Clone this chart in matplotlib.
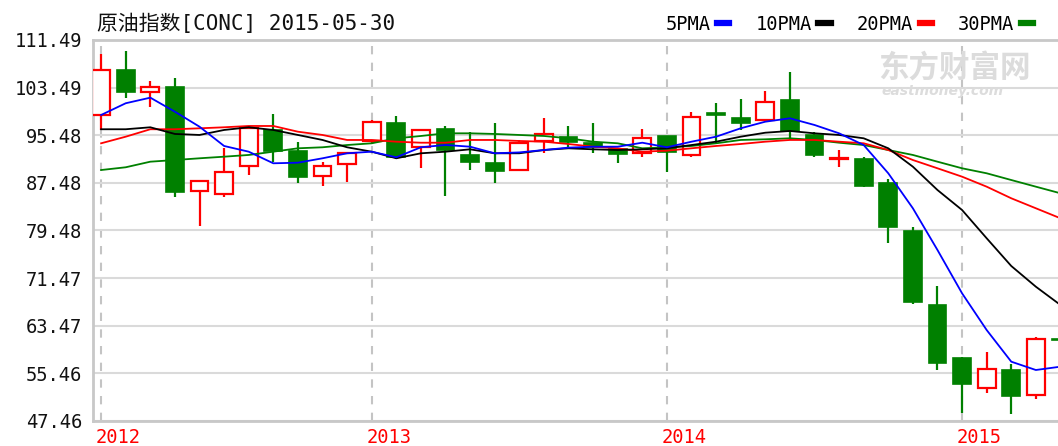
import matplotlib.pyplot as plt
from matplotlib.lines import Line2D
from matplotlib.transforms import ScaledTranslation
import numpy as np
import pandas as pd

# monthly candles, Feb 2012 .. May 2015
months = pd.period_range('2012-02', '2015-05', freq='M')

opens = [98.89, 106.45, 102.70, 103.64, 86.17, 85.61, 90.32, 96.37, 92.84, 88.64,
         90.65, 94.60, 97.60, 93.46, 96.48, 92.17, 90.87, 89.64, 94.57, 95.19,
         94.13, 93.12, 92.55, 95.36, 92.17, 99.17, 98.33, 98.05, 101.41, 95.53,
         91.50, 91.50, 87.41, 79.44, 66.96, 58.00, 52.96, 56.03, 51.83, 61.30]
highs = [109.14, 109.70, 104.65, 105.06, 87.90, 93.29, 97.04, 99.06, 94.40, 91.04,
         92.72, 98.00, 98.77, 96.40, 97.04, 96.08, 97.60, 94.70, 98.33, 97.00,
         97.60, 93.30, 96.48, 95.40, 99.45, 100.85, 101.53, 102.92, 106.17, 96.08,
         93.00, 91.78, 88.08, 80.12, 70.20, 58.16, 59.11, 57.04, 61.63, 62.50]
lows = [96.37, 101.70, 100.18, 85.16, 80.28, 85.16, 88.80, 91.04, 87.41, 87.01,
        87.68, 94.00, 91.44, 89.93, 85.28, 89.64, 87.51, 89.60, 92.45, 93.34,
        92.45, 90.87, 91.88, 89.36, 91.88, 94.13, 96.37, 97.80, 94.70, 91.88,
        90.20, 86.74, 77.43, 67.12, 56.03, 48.86, 52.22, 48.64, 51.11, 57.50]
closes = [106.45, 102.70, 103.54, 85.90, 87.85, 89.36, 96.65, 92.84, 88.52, 90.32,
          92.45, 97.70, 91.78, 96.37, 93.00, 91.04, 89.53, 94.24, 95.70, 94.35,
          93.56, 92.33, 94.97, 92.72, 98.60, 98.89, 97.60, 101.13, 96.25, 92.17,
          91.68, 86.96, 80.01, 67.41, 57.26, 53.63, 56.25, 51.71, 61.24, 61.00]

ma5 = [98.89, 100.86, 101.80, 99.44, 96.92, 93.68, 92.72, 90.77, 90.87, 91.61,
       92.45, 92.72, 91.78, 93.46, 93.85, 93.56, 92.45, 92.60, 93.00, 93.40,
       93.56, 93.56, 94.23, 93.46, 94.40, 95.24, 96.65, 97.76, 98.33, 97.21,
       95.81, 93.84, 89.09, 83.21, 76.20, 68.92, 62.75, 57.43, 56.03, 56.59]
ma10 = [96.49, 96.49, 96.82, 95.70, 95.53, 96.37, 96.82, 96.37, 95.53, 94.69,
        93.46, 92.72, 91.61, 92.45, 92.72, 93.12, 92.45, 92.45, 93.00, 93.29,
        93.12, 93.00, 93.12, 93.29, 93.84, 94.40, 95.24, 95.91, 96.20, 95.81,
        95.53, 94.97, 93.29, 90.20, 86.28, 82.92, 78.17, 73.51, 70.03, 66.96]
ma20 = [94.13, 95.24, 96.49, 96.49, 96.65, 96.82, 97.04, 97.04, 96.08, 95.53,
        94.69, 94.69, 94.40, 94.23, 94.23, 94.69, 94.69, 94.52, 94.40, 94.01,
        93.56, 93.29, 92.72, 92.89, 93.29, 93.68, 94.01, 94.40, 94.69, 94.69,
        94.40, 94.13, 93.00, 91.32, 89.93, 88.52, 86.84, 84.89, 83.21, 81.53]
ma30 = [89.64, 90.10, 91.04, 91.32, 91.61, 91.88, 92.17, 92.72, 93.29, 93.46,
        93.84, 94.13, 94.97, 95.36, 95.81, 95.81, 95.70, 95.53, 95.36, 94.97,
        94.40, 94.13, 93.29, 93.46, 93.68, 94.13, 94.69, 94.80, 94.97, 94.69,
        94.23, 93.84, 93.00, 92.17, 91.04, 89.93, 89.09, 87.96, 86.84, 85.73]

yticks = [47.46, 55.46, 63.47, 71.47, 79.48, 87.48, 95.48, 103.49, 111.49]

RED = '#ff0000'
GREEN = '#008000'
MONO = ['DejaVu Sans Mono', 'Noto Sans CJK SC']

fig = plt.figure(figsize=(10.58, 4.46), dpi=100)
ax = fig.add_axes([93 / 1058, 25 / 446, 1 - 93 / 1058, 381 / 446])

x = np.arange(len(months))
o = np.array(opens)
c = np.array(closes)
up = c >= o
dn = ~up

# wicks then bodies
ax.vlines(x[up], np.array(lows)[up], np.array(highs)[up], color=RED, lw=1.6, zorder=2)
ax.vlines(x[dn], np.array(lows)[dn], np.array(highs)[dn], color=GREEN, lw=1.6, zorder=2)
ax.bar(x[up], (c - o)[up], bottom=o[up], width=0.72, facecolor='white',
       edgecolor=RED, lw=1.6, zorder=3)
ax.bar(x[dn], (o - c)[dn], bottom=c[dn], width=0.72, facecolor=GREEN,
       edgecolor=GREEN, lw=1.2, zorder=3)

# moving averages
ax.plot(x, ma30, color=GREEN, lw=1.3, zorder=4)
ax.plot(x, ma20, color=RED, lw=1.3, zorder=4)
ax.plot(x, ma10, color='black', lw=1.3, zorder=4)
ax.plot(x, ma5, color='#0000ff', lw=1.3, zorder=4)

# year separators
year_idx = [i for i, m in enumerate(months) if i == 0 or m.month == 1]
year_lab = [str(months[i].year) for i in year_idx]
for i in year_idx:
    ax.axvline(i, color='#c4c4c4', lw=1.5, ls=(0, (4, 4)), zorder=1)

ax.set_xlim(-0.33, 38.9)
ax.set_ylim(yticks[0], yticks[-1])
ax.set_yticks(yticks, [f'{v:.2f}' for v in yticks])
ax.set_xticks(year_idx, year_lab)
ax.yaxis.grid(True, color='#dadada', lw=1.5, zorder=0)
ax.tick_params(length=0, labelsize=13.5, colors='#111111')
ax.tick_params(axis='y', pad=8)
ax.tick_params(axis='x', pad=5, labelcolor=RED)
for t in ax.get_yticklabels() + ax.get_xticklabels():
    t.set_family(MONO)
off = ScaledTranslation(-5 / 100, 0, fig.dpi_scale_trans)
for t in ax.get_xticklabels():
    t.set_ha('left')
    t.set_transform(t.get_transform() + off)

for s in ['left', 'bottom', 'top']:
    ax.spines[s].set_color('#c8c8c8')
    ax.spines[s].set_linewidth(2)
ax.spines['right'].set_visible(False)

# watermark
fig.text(878 / 1058, 1 - 68 / 446, '东方财富网', color='#dcdcdc', fontsize=22,
         fontweight='bold', family='Noto Sans CJK SC', va='center', style='italic')
fig.text(882 / 1058, 1 - 91 / 446, 'eastmoney.com', color='#dcdcdc', fontsize=10,
         fontweight='bold', style='italic', va='center')

# title
fig.text(97 / 1058, 1 - 24 / 446, '原油指数[CONC] 2015-05-30', fontsize=15,
         family=MONO, va='center', color='#111111')

# legend
handles = [Line2D([], [], color=col, lw=4.5) for col in ['#0000ff', 'black', RED, GREEN]]
fig.legend(handles, ['5PMA', '10PMA', '20PMA', '30PMA'], loc='center right',
           bbox_to_anchor=(1050 / 1058, 1 - 24 / 446), ncol=4, frameon=False,
           markerfirst=False, handlelength=0.65, handletextpad=0.35, columnspacing=1.4,
           prop={'family': MONO, 'size': 13.5})

fig.savefig('out.png', dpi=100)
